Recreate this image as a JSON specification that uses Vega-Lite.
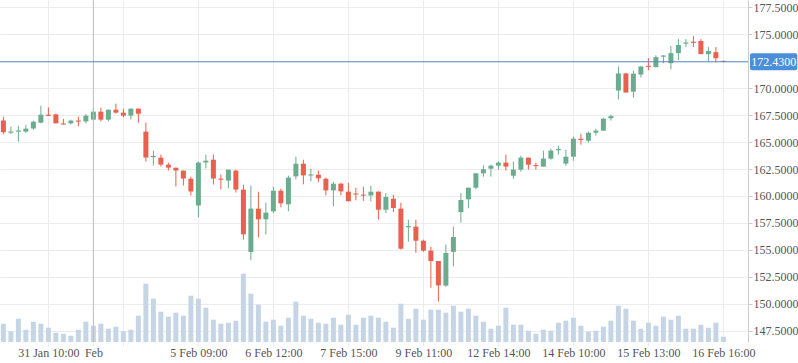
{
  "$schema": "https://vega.github.io/schema/vega-lite/v6.json",
  "width": 748,
  "height": 342,
  "autosize": {"type": "none"},
  "padding": {"left": 0, "top": 0, "right": 50, "bottom": 21},
  "background": "#ffffff",
  "config": {
    "view": {"stroke": null},
    "axis": {"labelFont": "Liberation Serif", "labelFontSize": 12, "labelColor": "#555555", "gridColor": "#ececec", "domainColor": "#cccccc", "tickColor": "#cccccc"}
  },
  "datasets": {
    "candles": [
      {"i":0,"o":166.98,"h":167.35,"l":165.71,"c":165.90,"v":18300},
      {"i":1,"o":165.86,"h":166.42,"l":165.74,"c":165.97,"v":10700},
      {"i":2,"o":165.95,"h":166.48,"l":165.03,"c":166.06,"v":23300},
      {"i":3,"o":165.96,"h":166.60,"l":165.86,"c":166.24,"v":12300},
      {"i":4,"o":166.24,"h":166.98,"l":166.14,"c":166.88,"v":20300},
      {"i":5,"o":166.79,"h":168.36,"l":166.73,"c":167.53,"v":18300},
      {"i":6,"o":167.53,"h":168.21,"l":167.41,"c":167.42,"v":14300},
      {"i":7,"o":167.56,"h":167.62,"l":166.73,"c":166.73,"v":9300},
      {"i":8,"o":166.72,"h":167.16,"l":166.62,"c":166.62,"v":8300},
      {"i":9,"o":166.73,"h":167.07,"l":166.64,"c":166.98,"v":6300},
      {"i":10,"o":166.99,"h":167.35,"l":166.45,"c":166.89,"v":12300},
      {"i":11,"o":166.91,"h":167.59,"l":166.73,"c":167.44,"v":20300},
      {"i":12,"o":167.07,"h":168.18,"l":167.07,"c":167.81,"v":16300},
      {"i":13,"o":167.81,"h":168.18,"l":166.91,"c":167.07,"v":18300},
      {"i":14,"o":167.07,"h":167.99,"l":166.91,"c":167.99,"v":13300},
      {"i":15,"o":167.99,"h":168.55,"l":167.62,"c":167.72,"v":15300},
      {"i":16,"o":167.72,"h":168.09,"l":167.28,"c":167.44,"v":10700},
      {"i":17,"o":167.44,"h":168.09,"l":167.07,"c":168.09,"v":12300},
      {"i":18,"o":168.09,"h":168.09,"l":166.79,"c":167.62,"v":26300},
      {"i":19,"o":165.96,"h":166.79,"l":163.18,"c":163.56,"v":58300},
      {"i":20,"o":163.59,"h":164.20,"l":162.82,"c":163.70,"v":43300},
      {"i":21,"o":163.55,"h":163.83,"l":162.73,"c":162.91,"v":30300},
      {"i":22,"o":162.90,"h":163.09,"l":162.36,"c":162.63,"v":25300},
      {"i":23,"o":162.62,"h":162.62,"l":160.88,"c":162.36,"v":29300},
      {"i":24,"o":162.35,"h":162.35,"l":160.97,"c":161.62,"v":26300},
      {"i":25,"o":161.60,"h":161.79,"l":160.04,"c":160.42,"v":46300},
      {"i":26,"o":159.12,"h":163.18,"l":158.00,"c":163.09,"v":43300},
      {"i":27,"o":163.10,"h":163.85,"l":162.55,"c":163.27,"v":34300},
      {"i":28,"o":163.36,"h":163.85,"l":161.06,"c":161.62,"v":22300},
      {"i":29,"o":161.61,"h":162.00,"l":160.60,"c":161.51,"v":18300},
      {"i":30,"o":161.43,"h":162.44,"l":160.70,"c":162.44,"v":19300},
      {"i":31,"o":162.35,"h":162.44,"l":160.32,"c":160.60,"v":21300},
      {"i":32,"o":160.59,"h":161.05,"l":155.96,"c":156.45,"v":68300},
      {"i":33,"o":154.81,"h":160.96,"l":154.06,"c":158.83,"v":48300},
      {"i":34,"o":158.83,"h":160.40,"l":156.17,"c":157.84,"v":37300},
      {"i":35,"o":157.84,"h":159.38,"l":156.45,"c":158.46,"v":20300},
      {"i":36,"o":158.58,"h":160.86,"l":158.40,"c":160.49,"v":22300},
      {"i":37,"o":160.49,"h":160.68,"l":158.95,"c":159.32,"v":16300},
      {"i":38,"o":159.23,"h":161.88,"l":158.58,"c":161.70,"v":24300},
      {"i":39,"o":161.82,"h":163.64,"l":161.54,"c":162.99,"v":40300},
      {"i":40,"o":162.99,"h":163.36,"l":161.08,"c":161.91,"v":26300},
      {"i":41,"o":161.89,"h":162.53,"l":161.36,"c":162.00,"v":23300},
      {"i":42,"o":161.98,"h":162.35,"l":161.27,"c":161.64,"v":19300},
      {"i":43,"o":161.60,"h":161.70,"l":160.06,"c":160.52,"v":18300},
      {"i":44,"o":160.52,"h":161.33,"l":159.04,"c":161.14,"v":24300},
      {"i":45,"o":161.14,"h":161.23,"l":160.06,"c":160.43,"v":17300},
      {"i":46,"o":160.40,"h":161.23,"l":159.51,"c":159.51,"v":27300},
      {"i":47,"o":160.23,"h":160.77,"l":159.60,"c":160.13,"v":17300},
      {"i":48,"o":160.13,"h":160.86,"l":159.55,"c":160.03,"v":24300},
      {"i":49,"o":160.05,"h":160.96,"l":159.50,"c":160.40,"v":26300},
      {"i":50,"o":160.40,"h":160.45,"l":157.81,"c":158.73,"v":24300},
      {"i":51,"o":158.73,"h":160.28,"l":158.42,"c":159.91,"v":20300},
      {"i":52,"o":159.75,"h":160.12,"l":158.52,"c":158.89,"v":14300},
      {"i":53,"o":158.83,"h":159.38,"l":155.03,"c":155.12,"v":38300},
      {"i":54,"o":157.10,"h":157.81,"l":155.77,"c":157.21,"v":23300},
      {"i":55,"o":157.16,"h":157.81,"l":154.75,"c":155.86,"v":33300},
      {"i":56,"o":155.86,"h":155.96,"l":154.84,"c":154.94,"v":22300},
      {"i":57,"o":154.94,"h":155.31,"l":151.50,"c":153.98,"v":32300},
      {"i":58,"o":153.98,"h":153.98,"l":150.22,"c":151.72,"v":32300},
      {"i":59,"o":151.70,"h":155.49,"l":151.60,"c":154.72,"v":29300},
      {"i":60,"o":154.83,"h":157.16,"l":153.48,"c":156.20,"v":36300},
      {"i":61,"o":158.52,"h":160.28,"l":157.52,"c":159.63,"v":30300},
      {"i":62,"o":159.69,"h":160.77,"l":158.86,"c":160.77,"v":33300},
      {"i":63,"o":160.77,"h":162.15,"l":160.62,"c":162.10,"v":26300},
      {"i":64,"o":162.10,"h":162.85,"l":161.79,"c":162.48,"v":20300},
      {"i":65,"o":162.53,"h":162.90,"l":161.79,"c":162.81,"v":13300},
      {"i":66,"o":162.81,"h":163.22,"l":162.44,"c":163.09,"v":16300},
      {"i":67,"o":163.09,"h":163.83,"l":162.35,"c":162.72,"v":34300},
      {"i":68,"o":161.88,"h":163.18,"l":161.60,"c":162.44,"v":17300},
      {"i":69,"o":162.44,"h":163.73,"l":162.25,"c":163.55,"v":17300},
      {"i":70,"o":163.55,"h":163.55,"l":162.44,"c":162.90,"v":11300},
      {"i":71,"o":162.87,"h":163.09,"l":162.44,"c":162.77,"v":8300},
      {"i":72,"o":162.72,"h":164.20,"l":162.72,"c":163.46,"v":12300},
      {"i":73,"o":163.46,"h":164.38,"l":163.36,"c":164.20,"v":11300},
      {"i":74,"o":164.24,"h":164.66,"l":163.83,"c":164.35,"v":19300},
      {"i":75,"o":163.00,"h":164.29,"l":162.81,"c":163.64,"v":21300},
      {"i":76,"o":163.64,"h":165.49,"l":163.27,"c":165.31,"v":24300},
      {"i":77,"o":165.30,"h":165.77,"l":164.75,"c":165.19,"v":16300},
      {"i":78,"o":165.12,"h":165.96,"l":164.94,"c":165.86,"v":10300},
      {"i":79,"o":165.86,"h":166.23,"l":165.59,"c":166.05,"v":11300},
      {"i":80,"o":166.05,"h":167.25,"l":166.05,"c":167.16,"v":15300},
      {"i":81,"o":167.20,"h":167.53,"l":166.98,"c":167.40,"v":21300},
      {"i":82,"o":169.77,"h":172.00,"l":168.93,"c":171.35,"v":36300},
      {"i":83,"o":171.35,"h":171.42,"l":169.58,"c":169.58,"v":33300},
      {"i":84,"o":169.66,"h":171.60,"l":169.10,"c":171.33,"v":21300},
      {"i":85,"o":171.25,"h":172.00,"l":170.97,"c":172.00,"v":13300},
      {"i":86,"o":172.06,"h":172.76,"l":171.65,"c":171.96,"v":19300},
      {"i":87,"o":171.93,"h":173.04,"l":171.93,"c":172.86,"v":16300},
      {"i":88,"o":172.90,"h":173.04,"l":172.30,"c":173.01,"v":25300},
      {"i":89,"o":172.30,"h":173.88,"l":171.74,"c":173.23,"v":22300},
      {"i":90,"o":173.23,"h":174.53,"l":172.58,"c":173.98,"v":26300},
      {"i":91,"o":174.11,"h":174.53,"l":173.79,"c":174.22,"v":13300},
      {"i":92,"o":174.29,"h":174.81,"l":173.79,"c":174.18,"v":13300},
      {"i":93,"o":174.35,"h":174.53,"l":173.14,"c":173.14,"v":17300},
      {"i":94,"o":173.14,"h":173.79,"l":172.48,"c":173.42,"v":14300},
      {"i":95,"o":173.32,"h":173.79,"l":172.39,"c":172.76,"v":19300},
      {"i":96,"o":172.52,"h":172.52,"l":172.40,"c":172.43,"v":5300}
    ],
    "cursor": [{"i": 12, "price": 172.43}]
  },
  "layer": [
    {
      "data": {"name": "candles"},
      "mark": {"type": "bar", "size": 5, "color": "#c5d5e6"},
      "encoding": {
        "x": {"field": "i", "type": "quantitative", "scale": {"domain": [-0.45, 99.28], "nice": false, "zero": false, "padding": 0},
          "axis": {"title": null, "values": [6, 12, 16, 26, 36, 46, 56, 66, 76, 86, 96], "grid": true, "domain": false, "tickSize": 4, "tickColor": "#ececec", "labelPadding": 1, "labelFlush": false, "labelOverlap": false,
            "labelExpr": "datum.value == 6 ? '31 Jan 10:00' : datum.value == 12 ? 'Feb' : datum.value == 26 ? '5 Feb 09:00' : datum.value == 36 ? '6 Feb 12:00' : datum.value == 46 ? '7 Feb 15:00' : datum.value == 56 ? '9 Feb 11:00' : datum.value == 66 ? '12 Feb 14:00' : datum.value == 76 ? '14 Feb 10:00' : datum.value == 86 ? '15 Feb 13:00' : datum.value == 96 ? '16 Feb 16:00' : ''"}},
        "y": {"field": "v", "type": "quantitative", "scale": {"domain": [0, 342000], "nice": false, "padding": 0}, "axis": null}
      }
    },
    {
      "data": {"name": "candles"},
      "mark": {"type": "rule", "strokeWidth": 1},
      "encoding": {
        "x": {"field": "i", "type": "quantitative", "scale": {"domain": [-0.45, 99.28], "nice": false, "zero": false, "padding": 0}},
        "y": {"field": "l", "type": "quantitative", "scale": {"domain": [146.48, 178.15], "nice": false, "zero": false, "padding": 0},
          "axis": {"title": null, "orient": "right", "grid": true, "values": [147.5, 150, 152.5, 155, 157.5, 160, 162.5, 165, 167.5, 170, 175, 177.5], "format": ".4f", "tickSize": 4, "labelPadding": 1, "domain": true}},
        "y2": {"field": "h"},
        "color": {"condition": {"test": "datum.c >= datum.o", "value": "#6aad8e"}, "value": "#e8604e"}
      }
    },
    {
      "data": {"name": "candles"},
      "mark": {"type": "bar", "size": 5},
      "encoding": {
        "x": {"field": "i", "type": "quantitative", "scale": {"domain": [-0.45, 99.28], "nice": false, "zero": false, "padding": 0}},
        "y": {"field": "o", "type": "quantitative", "scale": {"domain": [146.48, 178.15], "nice": false, "zero": false, "padding": 0}, "axis": null},
        "y2": {"field": "c"},
        "color": {"condition": {"test": "datum.c >= datum.o", "value": "#6aad8e"}, "value": "#e8604e"}
      }
    },
    {
      "data": {"name": "cursor"},
      "mark": {"type": "rule", "color": "#bdbdbd", "strokeWidth": 1},
      "encoding": {
        "x": {"field": "i", "type": "quantitative", "scale": {"domain": [-0.45, 99.28], "nice": false, "zero": false, "padding": 0}}
      }
    },
    {
      "data": {"name": "cursor"},
      "mark": {"type": "rule", "color": "#5583bd", "strokeWidth": 1},
      "encoding": {
        "y": {"field": "price", "type": "quantitative", "scale": {"domain": [146.48, 178.15], "nice": false, "zero": false, "padding": 0}, "axis": null}
      }
    },
    {
      "data": {"name": "cursor"},
      "mark": {"type": "bar", "size": 17, "cornerRadius": 2, "color": "#4a8fd8", "orient": "horizontal"},
      "encoding": {
        "x": {"datum": 99.55, "type": "quantitative", "scale": {"domain": [-0.45, 99.28], "nice": false, "zero": false, "padding": 0}},
        "x2": {"datum": 105.85},
        "y": {"field": "price", "type": "quantitative", "scale": {"domain": [146.48, 178.15], "nice": false, "zero": false, "padding": 0}, "axis": null}
      }
    },
    {
      "data": {"name": "cursor"},
      "mark": {"type": "text", "color": "#ffffff", "font": "Liberation Serif", "fontSize": 12, "align": "center", "baseline": "middle"},
      "encoding": {
        "x": {"datum": 102.7, "type": "quantitative", "scale": {"domain": [-0.45, 99.28], "nice": false, "zero": false, "padding": 0}},
        "y": {"field": "price", "type": "quantitative", "scale": {"domain": [146.48, 178.15], "nice": false, "zero": false, "padding": 0}, "axis": null},
        "text": {"field": "price", "type": "quantitative", "format": ".4f"}
      }
    }
  ],
  "resolve": {"scale": {"y": "independent"}}
}
